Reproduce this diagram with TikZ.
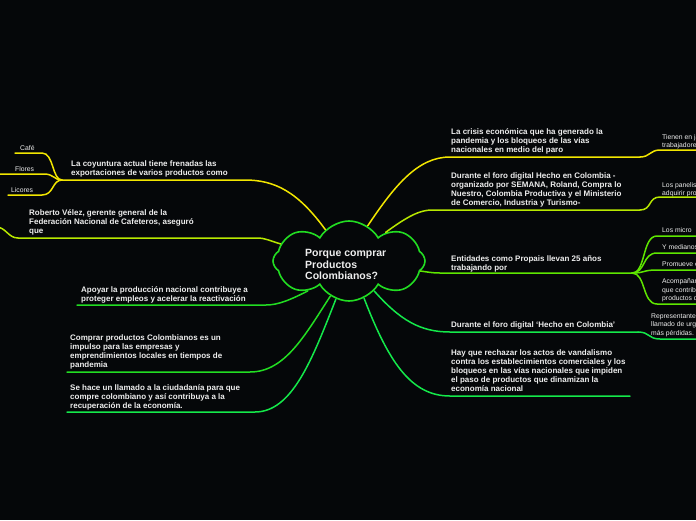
\documentclass[tikz,border=0pt]{standalone}
\usepackage{fontspec}
\setmainfont{Liberation Sans}
\definecolor{mapback}{HTML}{050709}
\definecolor{mapyellow}{HTML}{F2E600}
\definecolor{maplime}{HTML}{B8E800}
\definecolor{mapgreen}{HTML}{5EE600}
\definecolor{mapcloud}{HTML}{22DD22}
\definecolor{mapmint}{HTML}{14E84A}
\definecolor{maptext}{HTML}{EEEEEE}
\usetikzlibrary{shapes.symbols}
\tikzset{
    centraltopic/.style={
        cloud,
        cloud puffs=8,
        cloud puff arc=120,
        aspect=1.9,
        draw=mapcloud,
        fill=mapback,
        line width=1.6pt,
        minimum width=152pt,
        minimum height=80pt,
        inner sep=0pt
    },
    centraltext/.style={
        anchor=north west,
        inner sep=0pt,
        align=left,
        text=maptext,
        font=\bfseries\fontsize{10.5}{11.5}\selectfont
    },
    maintopic/.style={
        anchor=north west,
        inner sep=0pt,
        align=left,
        text=maptext,
        font=\bfseries\fontsize{8}{9}\selectfont
    },
    subtopic/.style={
        anchor=north west,
        inner sep=0pt,
        align=left,
        text=maptext,
        font=\fontsize{6.8}{8.5}\selectfont
    },
    mapbranch/.style={
        line width=1.5pt,
        line cap=round
    }
}

\begin{document}
\begin{tikzpicture}[x=1pt,y=-1pt]
    \fill[mapback] (0,0) rectangle (696,520);
    \clip (0,0) rectangle (696,520);

    % central topic
    \node[centraltopic] (topic) at (349,261) {};
    \node[centraltext] (topictext) at (305,249.5)
        {Porque comprar\\Productos\\Colombianos?};

    % left side
    \node[maintopic] (coyuntura) at (71,160.5)
        {La coyuntura actual tiene frenadas las\\exportaciones de varios productos como};
    \node[subtopic] (cafe) at (20,145) {Café};
    \node[subtopic] (flores) at (15,166) {Flores};
    \node[subtopic] (licores) at (11,187) {Licores};
    \node[maintopic] (velez) at (29,209.5)
        {Roberto Vélez, gerente general de la\\Federación Nacional de Cafeteros, aseguró\\que};
    \node[maintopic] (apoyar) at (81,286.5)
        {Apoyar la producción nacional contribuye a\\proteger empleos y acelerar la reactivación};
    \node[maintopic] (comprar) at (70,334.5)
        {Comprar productos Colombianos es un\\impulso para las empresas y\\emprendimientos locales en tiempos de\\pandemia};
    \node[maintopic] (llamado) at (70,384.5)
        {Se hace un llamado a la ciudadanía para que\\compre colombiano y así contribuya a la\\recuperación de la economía.};

    % right side
    \node[maintopic] (crisis) at (451,128.5)
        {La crisis económica que ha generado la\\pandemia y los bloqueos de las vías\\nacionales en medio del paro};
    \node[subtopic] (tienen) at (662,134) {Tienen en jaque\\trabajadores};
    \node[maintopic] (foro) at (451,172.5)
        {Durante el foro digital Hecho en Colombia -\\organizado por SEMANA, Roland, Compra lo\\Nuestro, Colombia Productiva y el Ministerio\\de Comercio, Industria y Turismo-};
    \node[subtopic] (panelistas) at (662,182) {Los panelistas\\adquirir productos};
    \node[maintopic] (entidades) at (451,255.5)
        {Entidades como Propais llevan 25 años\\trabajando por};
    \node[subtopic] (micro) at (662,227) {Los micro};
    \node[subtopic] (medianos) at (662,244) {Y medianos};
    \node[subtopic] (promueve) at (662,261) {Promueve el};
    \node[subtopic] (acompana) at (662,278.5) {Acompañamiento\\que contribuye\\productos de};
    \node[maintopic] (forohecho) at (451,321.5)
        {Durante el foro digital ‘Hecho en Colombia’};
    \node[subtopic] (representantes) at (651,313.5)
        {Representantes\\llamado de urgencia\\más pérdidas.};
    \node[maintopic] (rechazar) at (451,349.5)
        {Hay que rechazar los actos de vandalismo\\contra los establecimientos comerciales y los\\bloqueos en las vías nacionales que impiden\\el paso de productos que dinamizan la\\economía nacional};

    % line ends
    \coordinate (coyunturaL) at (62,180);
    \coordinate (coyunturaR) at (245,180);
    \coordinate (cafeL) at (15,153);
    \coordinate (cafeR) at (42,153);
    \coordinate (floresL) at (-2,174);
    \coordinate (floresR) at (44,174);
    \coordinate (licoresL) at (8,195);
    \coordinate (licoresR) at (42,195);
    \coordinate (velezL) at (18,238);
    \coordinate (velezR) at (258,238);
    \coordinate (velezout) at (-4,227);
    \coordinate (apoyarL) at (77,305);
    \coordinate (apoyarR) at (266,305);
    \coordinate (comprarL) at (67,372);
    \coordinate (comprarR) at (250,372);
    \coordinate (llamadoL) at (67,412);
    \coordinate (llamadoR) at (255,412);
    \coordinate (crisisL) at (450,157);
    \coordinate (crisisR) at (640,157);
    \coordinate (tienenL) at (660,150);
    \coordinate (tienenR) at (700,150);
    \coordinate (foroL) at (432,210);
    \coordinate (foroR) at (640,210);
    \coordinate (panelistasL) at (660,197);
    \coordinate (panelistasR) at (700,197);
    \coordinate (entidadesL) at (440,273);
    \coordinate (entidadesR) at (632,273);
    \coordinate (microL) at (657,236);
    \coordinate (medianosL) at (657,253);
    \coordinate (promueveL) at (657,270);
    \coordinate (acompanaL) at (657,304);
    \coordinate (forohechoL) at (450,332);
    \coordinate (forohechoR) at (638,332);
    \coordinate (representantesL) at (660,339);
    \coordinate (representantesR) at (700,339);
    \coordinate (rechazarL) at (450,396);
    \coordinate (rechazarR) at (630,396);

    % branches
    \draw[mapbranch,draw=mapyellow] (topic.127) .. controls (298,192) and (275,180) .. (coyunturaR) -- (coyunturaL);
    \draw[mapbranch,draw=mapyellow] (coyunturaL) .. controls (52,180) and (54,153) .. (cafeR) -- (cafeL);
    \draw[mapbranch,draw=mapyellow] (coyunturaL) .. controls (54,180) and (54,174) .. (floresR) -- (floresL);
    \draw[mapbranch,draw=mapyellow] (coyunturaL) .. controls (52,180) and (54,195) .. (licoresR) -- (licoresL);
    \draw[mapbranch,draw=maplime] (topic.166) .. controls (268,240) and (264,238) .. (velezR) -- (velezL);
    \draw[mapbranch,draw=maplime] (velezL) .. controls (8,238) and (6,227) .. (velezout);
    \draw[mapbranch,draw=mapcloud] (topic.-144) .. controls (290,300) and (278,305) .. (apoyarR) -- (apoyarL);
    \draw[mapbranch,draw=mapcloud] (topic.-118) .. controls (305,335) and (285,372) .. (comprarR) -- (comprarL);
    \draw[mapbranch,draw=mapmint] (topic.-109) .. controls (312,360) and (292,412) .. (llamadoR) -- (llamadoL);

    \draw[mapbranch,draw=mapyellow] (topic.62) .. controls (395,185) and (418,157) .. (crisisL) -- (crisisR);
    \draw[mapbranch,draw=mapyellow] (crisisR) .. controls (650,157) and (650,150) .. (tienenL) -- (tienenR);
    \draw[mapbranch,draw=maplime] (topic.38) .. controls (408,216) and (420,210) .. (foroL) -- (foroR);
    \draw[mapbranch,draw=maplime] (foroR) .. controls (652,210) and (648,197) .. (panelistasL) -- (panelistasR);
    \draw[mapbranch,draw=mapgreen] (topic.-8) .. controls (428,272) and (432,273) .. (entidadesL) -- (entidadesR);
    \foreach \leaf in {microL,medianosL,promueveL,acompanaL} {
        \draw[mapbranch,draw=mapgreen] (entidadesR) .. controls (646,273) and (642,0 |- \leaf) .. (\leaf) -- ++(45,0);
    }
    \draw[mapbranch,draw=mapmint] (topic.-50) .. controls (400,320) and (420,332) .. (forohechoL) -- (forohechoR);
    \draw[mapbranch,draw=mapmint] (forohechoR) .. controls (650,332) and (648,339) .. (representantesL) -- (representantesR);
    \draw[mapbranch,draw=mapmint] (topic.-68) .. controls (388,360) and (410,396) .. (rechazarL) -- (rechazarR);
\end{tikzpicture}
\end{document}
